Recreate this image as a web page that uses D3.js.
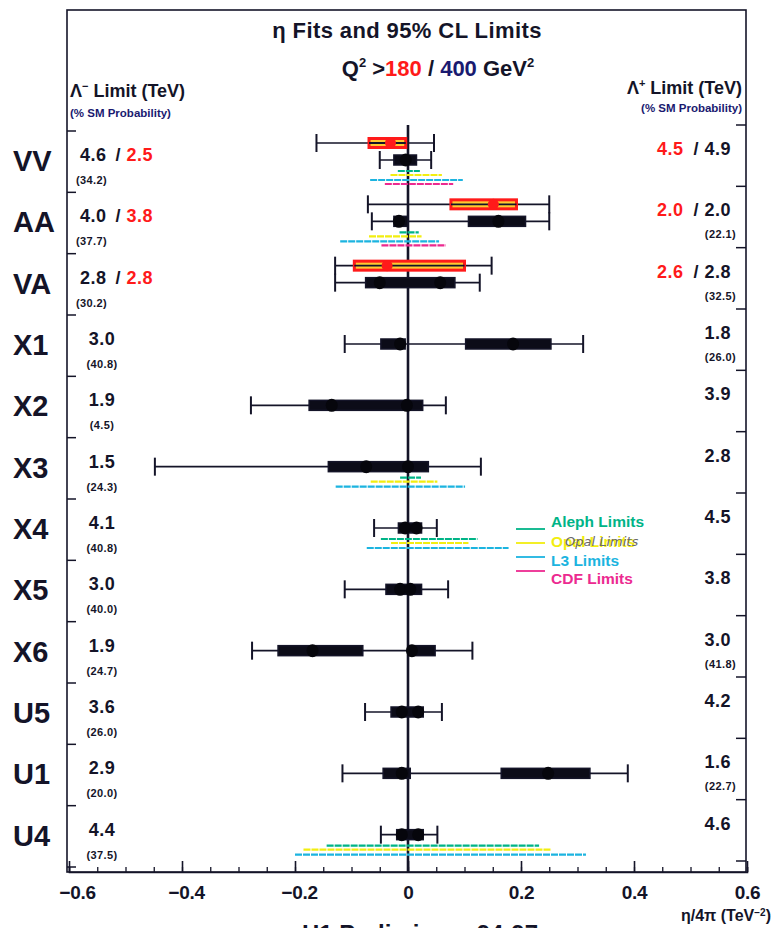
<!DOCTYPE html>
<html><head><meta charset="utf-8">
<script src="https://cdn.jsdelivr.net/npm/d3@7"></script>
<style>body{margin:0;background:#fff}svg{display:block;font-family:"Liberation Sans",Arial,Helvetica,sans-serif;font-weight:bold}</style>
</head><body><svg id="c" width="773" height="928"></svg>
<script>
// ---------- data ----------
const categories = ["VV","AA","VA","X1","X2","X3","X4","X5","X6","U5","U1","U4"];
// Lambda- limits (TeV): Q2>400 (black) / Q2>180 (red)
const leftLimit    = ["4.6","4.0","2.8","3.0","1.9","1.5","4.1","3.0","1.9","3.6","2.9","4.4"];
const leftLimitRed = ["2.5","3.8","2.8",null,null,null,null,null,null,null,null,null];
const leftProb     = ["(34.2)","(37.7)","(30.2)","(40.8)","(4.5)","(24.3)","(40.8)","(40.0)","(24.7)","(26.0)","(20.0)","(37.5)"];
// Lambda+ limits (TeV)
const rightLimitRed = ["4.5","2.0","2.6",null,null,null,null,null,null,null,null,null];
const rightLimit    = ["4.9","2.0","2.8","1.8","3.9","2.8","4.5","3.8","3.0","4.2","1.6","4.6"];
const rightProb     = [null,"(22.1)","(32.5)","(26.0)",null,null,null,null,"(41.8)",null,"(22.7)",null];
// Q2>400 fits (black): 95% CL interval, 1-sigma boxes, fit minima
const fitLo  = [-0.050,-0.064,-0.129,-0.112,-0.278,-0.448,-0.060,-0.112,-0.276,-0.076,-0.116,-0.048];
const fitHi  = [0.041,0.250,0.127,0.310,0.067,0.129,0.051,0.071,0.114,0.060,0.389,0.052];
const fitBoxes = [
  [[-0.025,0.015]], [[-0.025,0.000],[0.107,0.208]], [[-0.075,0.083]], [[-0.048,-0.005],[0.102,0.253]],
  [[-0.175,0.026]], [[-0.141,0.036]], [[-0.017,0.024]], [[-0.039,0.024]],
  [[-0.230,-0.080],[0.000,0.048]], [[-0.030,0.027]], [[-0.044,0.004],[0.165,0.322]], [[-0.020,0.027]]
];
const fitPoints = [[-0.004],[-0.016,0.160],[-0.050,0.057],[-0.014,0.186],[-0.135,-0.002],[-0.074,0.000],
  [-0.005,0.015],[-0.014,0.004],[-0.169,0.007],[-0.011,0.018],[-0.011,0.248],[-0.011,0.018]];
// Q2>180 fits (red) for VV, AA, VA
const redCats = ["VV","AA","VA"];
const redLo  = [-0.162,-0.071,-0.129];
const redHi  = [0.046,0.250,0.148];
const redBox = [[-0.069,-0.004],[0.076,0.192],[-0.095,0.100]];
const redPt  = [-0.031,0.151,-0.037];
// LEP / Tevatron limits
const limitNames = ["Aleph Limits","Opal Limits","L3 Limits","CDF Limits"];
const alephLim = {VV:[-0.018,0.021],AA:[-0.015,0.019],X3:[-0.014,0.023],X4:[-0.048,0.123],U4:[-0.144,0.232]};
const opalLim  = {VV:[-0.031,0.060],AA:[-0.069,0.024],X3:[-0.066,0.052],X4:[-0.030,0.107],U4:[-0.185,0.254]};
const l3Lim    = {VV:[-0.067,0.097],AA:[-0.120,0.055],X3:[-0.128,0.101],X4:[-0.073,0.178],U4:[-0.200,0.315]};
const cdfLim   = {VV:[-0.041,0.080],AA:[-0.047,0.067]};
const xTicks = [-0.6,-0.4,-0.2,0,0.2,0.4,0.6];

// ---------- drawing ----------
const svg = d3.select("#c");
const x = d3.scaleLinear().domain([-0.6,0.6]).range([69,747]);
const y = d3.scaleBand().domain(categories).range([125,861]);
const ink = "#141428", red = "#ff1a1a", navy = "#1a1a70";
const limColors = ["#00b487","#f2ee10","#1cb4e0","#ec2a90"];
const limSets = [alephLim, opalLim, l3Lim, cdfLim];

// frame
svg.append("rect").attr("x",67).attr("y",10).attr("width",679).attr("height",862)
  .attr("fill","none").attr("stroke",ink).attr("stroke-width",1.6);

// bottom axis: minor + major ticks (inward)
const gx = svg.append("g").attr("transform","translate(0,872)");
gx.call(d3.axisBottom(x).tickValues(d3.range(-0.6,0.6001,0.05)).tickSize(-5).tickFormat(""))
  .call(g=>g.select(".domain").attr("stroke",ink).attr("stroke-width",1.6));
const gx2 = svg.append("g").attr("transform","translate(0,872)");
gx2.call(d3.axisBottom(x).tickValues(xTicks).tickSize(-11).tickPadding(14).tickFormat(d=>d===0?"0":d3.format(".1f")(d)))
  .call(g=>g.select(".domain").remove());
gx.selectAll("line").attr("stroke",ink).attr("stroke-width",1.3);
gx2.selectAll("line").attr("stroke",ink).attr("stroke-width",1.6);
gx2.selectAll("text").attr("font-size",19).attr("font-family","Liberation Sans, Arial, sans-serif")
  .attr("font-weight","bold").attr("fill",ink).attr("dx",d=>d===-0.6?8:(d<0?4:0)).attr("letter-spacing","-0.3");

// side ticks (category boundaries)
const bounds = categories.map(c=>y(c)).concat([y.range()[1]]);
svg.append("g").selectAll("line").data(bounds).join("line")
  .attr("x1",67).attr("x2",76).attr("y1",d=>d+6).attr("y2",d=>d+6).attr("stroke",ink).attr("stroke-width",1.5);
svg.append("g").selectAll("line").data(bounds).join("line")
  .attr("x1",736).attr("x2",746).attr("y1",d=>d).attr("y2",d=>d).attr("stroke",ink).attr("stroke-width",1.5);

// zero line
svg.append("line").attr("x1",x(0)).attr("x2",x(0)).attr("y1",125).attr("y2",872)
  .attr("stroke",ink).attr("stroke-width",2.6);

// limit lines
const limOffsets = [46,50,55,59];
limSets.forEach((set,k)=>{
  const rows = Object.keys(set);
  svg.append("g").selectAll("line").data(rows).join("line")
    .attr("x1",c=>x(set[c][0])).attr("x2",c=>x(set[c][1]))
    .attr("y1",c=>y(c)+limOffsets[k]).attr("y2",c=>y(c)+limOffsets[k])
    .attr("stroke",limColors[k]).attr("stroke-width",2.2).attr("stroke-dasharray","7,1");
});

function errorBar(g, yy, lo, hi){
  g.append("line").attr("x1",x(lo)).attr("x2",x(hi)).attr("y1",yy).attr("y2",yy).attr("stroke",ink).attr("stroke-width",1.6);
  [lo,hi].forEach(v=>g.append("line").attr("x1",x(v)).attr("x2",x(v)).attr("y1",yy-9).attr("y2",yy+9)
    .attr("stroke",ink).attr("stroke-width",2));
}
// red fits
redCats.forEach((c,i)=>{
  const g = svg.append("g"), yy = y(c)+18;
  errorBar(g, yy, redLo[i], redHi[i]);
  g.append("rect").attr("x",x(redBox[i][0])).attr("y",yy-4.5).attr("width",x(redBox[i][1])-x(redBox[i][0])).attr("height",9)
    .attr("fill","#ffc830").attr("stroke",red).attr("stroke-width",3);
  g.append("line").attr("x1",x(redBox[i][0])).attr("x2",x(redBox[i][1])).attr("y1",yy).attr("y2",yy).attr("stroke",ink).attr("stroke-width",1.8);
  g.append("circle").attr("cx",x(redPt[i])).attr("cy",yy).attr("r",5.5).attr("fill",red);
});
// black fits
categories.forEach((c,i)=>{
  const g = svg.append("g"), yy = y(c)+35;
  errorBar(g, yy, fitLo[i], fitHi[i]);
  fitBoxes[i].forEach(b=>g.append("rect").attr("x",x(b[0])).attr("y",yy-5).attr("width",x(b[1])-x(b[0])).attr("height",10)
    .attr("fill","#0c0c18").attr("stroke",ink).attr("stroke-width",1.5));
  fitPoints[i].forEach(p=>g.append("ellipse").attr("cx",x(p)).attr("cy",yy).attr("rx",6).attr("ry",6.5).attr("fill","#06060c"));
});

// category labels
svg.append("g").selectAll("text").data(categories).join("text")
  .attr("x",13).attr("y",c=>y(c)+46).attr("font-size",29).attr("fill",ink).text(c=>c);

// left / right limit labels
categories.forEach((c,i)=>{
  const top = y(c);
  if(leftLimitRed[i]){
    const t = svg.append("text").attr("x",80).attr("y",top+36).attr("font-size",18).attr("letter-spacing",0.5).attr("fill",ink);
    t.append("tspan").text(leftLimit[i]);
    t.append("tspan").attr("dx",9).text("/ ");
    t.append("tspan").attr("fill",red).text(leftLimitRed[i]);
    svg.append("text").attr("x",76).attr("y",top+59).attr("font-size",11).attr("letter-spacing",0.4).attr("fill",ink).text(leftProb[i]);
  } else {
    svg.append("text").attr("x",102).attr("y",top+36).attr("text-anchor","middle").attr("font-size",18).attr("letter-spacing",0.5).attr("fill",ink).text(leftLimit[i]);
    svg.append("text").attr("x",102).attr("y",top+59).attr("text-anchor","middle").attr("font-size",11).attr("letter-spacing",0.4).attr("fill",ink).text(leftProb[i]);
  }
  const t = svg.append("text").attr("x",731).attr("y",top+30).attr("text-anchor","end").attr("font-size",18).attr("letter-spacing",0.5).attr("fill",ink);
  if(rightLimitRed[i]){
    t.append("tspan").attr("fill",red).text(rightLimitRed[i]);
    t.append("tspan").attr("dx",10).text("/ ");
  }
  t.append("tspan").text(rightLimit[i]);
  if(rightProb[i]) svg.append("text").attr("x",736).attr("y",top+52).attr("text-anchor","end").attr("font-size",11).attr("letter-spacing",0.4).attr("fill",ink).text(rightProb[i]);
});

// legend
const leg = svg.append("g");
limitNames.forEach((n,k)=>{
  const ly = [529,543,557,571][k], ty = [527,547,566,584][k];
  leg.append("line").attr("x1",516).attr("x2",545).attr("y1",ly).attr("y2",ly).attr("stroke",limColors[k]).attr("stroke-width",1.8);
  leg.append("text").attr("x",551).attr("y",ty).attr("font-size",15.5).attr("fill",limColors[k]).text(n);
});
leg.append("text").attr("x",565).attr("y",546).attr("font-size",13).attr("font-weight","normal")
  .attr("font-style","italic").attr("fill","#6a6a6a").attr("font-family","DejaVu Sans").text("Opal Limits");

// titles
svg.append("text").attr("x",407).attr("y",38).attr("text-anchor","middle").attr("font-size",22).attr("letter-spacing",0.4).attr("fill",ink).text("η Fits and 95% CL Limits");
const q = svg.append("text").attr("x",438).attr("y",76).attr("text-anchor","middle").attr("font-size",22).attr("fill",ink);
q.append("tspan").text("Q");
q.append("tspan").attr("dy",-9).attr("font-size",13).text("2");
q.append("tspan").attr("dy",9).text(" >");
q.append("tspan").attr("fill",red).text("180");
q.append("tspan").text(" / ");
q.append("tspan").attr("fill",navy).text("400");
q.append("tspan").text("  GeV");
q.append("tspan").attr("dy",-9).attr("font-size",13).text("2");

const ll = svg.append("text").attr("x",70).attr("y",97).attr("font-size",18).attr("fill",ink);
ll.append("tspan").text("Λ"); ll.append("tspan").attr("dy",-7).attr("font-size",11).text("−");
ll.append("tspan").attr("dy",7).text(" Limit (TeV)");
svg.append("text").attr("x",70).attr("y",117).attr("font-size",11.5).attr("fill",navy).text("(% SM Probability)");
const rl = svg.append("text").attr("x",742).attr("y",94).attr("text-anchor","end").attr("font-size",18).attr("fill",ink);
rl.append("tspan").text("Λ"); rl.append("tspan").attr("dy",-7).attr("font-size",11).text("+");
rl.append("tspan").attr("dy",7).text(" Limit (TeV)");
svg.append("text").attr("x",742).attr("y",112).attr("text-anchor","end").attr("font-size",11.5).attr("fill",navy).text("(% SM Probability)");

// axis title
const at = svg.append("text").attr("x",771).attr("y",921).attr("text-anchor","end").attr("font-size",16).attr("fill",ink);
at.append("tspan").text("η/4π (TeV");
at.append("tspan").attr("dy",-5).attr("font-size",10).text("−2");
at.append("tspan").attr("dy",5).text(")");

// cut-off footer
svg.append("text").attr("x",420).attr("y",942).attr("text-anchor","middle").attr("font-size",24).attr("fill",ink).text("H1 Preliminary 94-97");
</script></body></html>
